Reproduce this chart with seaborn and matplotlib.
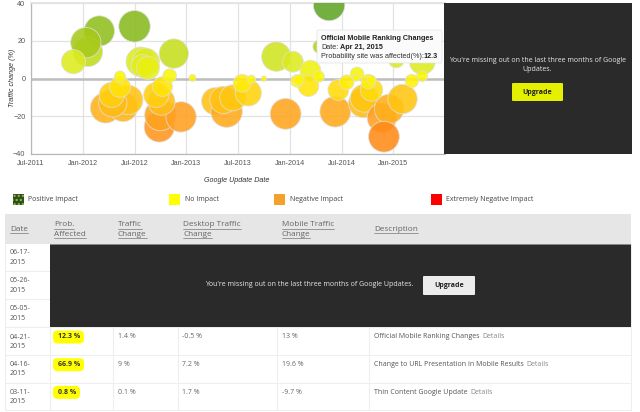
import matplotlib
matplotlib.use("Agg")
import matplotlib.pyplot as plt
import pandas as pd
import seaborn as sns
from matplotlib.colors import LinearSegmentedColormap
from matplotlib.patches import FancyBboxPatch, Rectangle

# decimal year of each Google update
update_year = [
    2012.16, 2012.50, 2012.05, 2012.03, 2011.91, 2012.88, 2012.56, 2012.61, 2012.58, 2012.63,
    2012.22, 2012.39, 2012.44, 2012.29, 2012.28, 2012.36, 2012.36,
    2012.74, 2012.75, 2012.95, 2012.76, 2012.71, 2012.77, 2012.84, 2013.06,
    2013.28, 2013.39, 2013.36, 2013.45, 2013.60, 2013.54, 2013.63, 2013.75,
    2013.96, 2013.87, 2014.03, 2014.20, 2014.18, 2014.07, 2014.09, 2014.28, 2014.29, 2014.38,
    2014.44, 2014.47, 2014.55, 2014.65, 2014.64, 2014.71, 2014.72, 2014.79, 2014.76, 2014.79,
    2014.89, 2014.96, 2015.09, 2014.91, 2015.03, 2015.18, 2015.28, 2015.28,
]
traffic_change = [
    25.3, 27.8, 14.2, 19.1, 9.0, 13.3, 9.0, 8.9, 6.7, 5.7,
    -15.5, -15.0, -11.3, -12.9, -8.6, -4.4, 1.1,
    -25.6, -19.3, -20.3, -12.2, -8.6, -4.2, 1.6, 0.4,
    -12.0, -17.5, -11.3, -10.2, -7.6, -2.4, -0.3, 0.0,
    -18.7, 11.7, 9.0, 4.2, -3.9, -1.2, -0.7, 1.1, 17.0, 39.1,
    -17.5, -6.0, -1.9, 2.5, 0.5, -12.9, -10.4, -6.0, -1.6, -0.7,
    -20.8, -16.1, -10.8, -30.8, 9.9, -1.2, 9.0, 1.4,
]
prob_affected = [
    93, 100, 87, 93, 59, 87, 87, 75, 54, 54,
    93, 87, 87, 81, 64, 44, 13,
    93, 100, 93, 75, 64, 40, 19, 5,
    75, 100, 75, 69, 69, 32, 7, 3,
    96, 87, 44, 44, 44, 16, 11, 13, 19, 100,
    96, 44, 22, 19, 5, 87, 79, 51, 22, 8,
    87, 87, 87, 96, 25, 18, 66.9, 12.3,
]

x_ticks = [2011.5, 2012, 2012.5, 2013, 2013.5, 2014, 2014.5, 2015]
x_labels = ["Jul-2011", "Jan-2012", "Jul-2012", "Jan-2013", "Jul-2013", "Jan-2014", "Jul-2014", "Jan-2015"]
y_ticks = [-40, -20, 0, 20, 40]

legend_labels = ["Positive Impact", "No Impact", "Negative Impact", "Extremely Negative Impact"]
header_labels = [["Date"], ["Prob.", "Affected"], ["Traffic", "Change"], ["Desktop Traffic", "Change"],
                 ["Mobile Traffic", "Change"], ["Description"]]
hidden_dates = ["06-17-\n2015", "05-26-\n2015", "05-05-\n2015"]
row_dates = ["04-21-\n2015", "04-16-\n2015", "03-11-\n2015"]
row_prob = ["12.3 %", "66.9 %", "0.8 %"]
row_traffic = ["1.4 %", "9 %", "0.1 %"]
row_desktop = ["-0.5 %", "7.2 %", "1.7 %"]
row_mobile = ["13 %", "19.6 %", "-9.7 %"]
row_desc = ["Official Mobile Ranking Changes", "Change to URL Presentation in Mobile Results", "Thin Content Google Update"]

CHART_FONT = "Liberation Sans"
PAGE_FONT = "Open Sans"
DARK = "#2a2a2a"

sns.set_theme(style="whitegrid")
plt.rcParams["font.family"] = [CHART_FONT, "DejaVu Sans"]

W, H = 640, 412
fig = plt.figure(figsize=(W / 100, H / 100), dpi=100, facecolor="white")

# ---- bubble chart ----
ax = fig.add_axes([31 / W, 1 - 154 / H, (445 - 31) / W, (154 - 3.3) / H])
df = pd.DataFrame({"year": update_year, "traffic": traffic_change, "prob": prob_affected})
cores = LinearSegmentedColormap.from_list("impacto", [
    (0.0, "#ff7a10"), (0.25, "#ffa020"), (0.375, "#ffc810"), (0.5, "#fff800"),
    (0.625, "#d8ea20"), (0.75, "#a2c818"), (1.0, "#5fa428"),
])
sns.scatterplot(
    data=df, x="year", y="traffic", hue="traffic", size="prob", ax=ax, legend=False,
    palette=cores, hue_norm=(-40, 40), sizes=(0, 1.1 * (2 * 15 * 0.72) ** 2), size_norm=(0, 100),
    alpha=0.88, edgecolor="#e0e0e0", linewidth=0.6, zorder=3,
)
ax.set_xlim(2011.5, 2015.5)
ax.set_ylim(-40, 40)
ax.set_xticks(x_ticks, x_labels)
ax.set_yticks(y_ticks)
ax.set_xlabel("")
ax.set_ylabel("")
ax.grid(True, color="#e2e2e2", linewidth=0.9)
ax.axhline(0, color="#bdbdbd", linewidth=1.8, zorder=2)
ax.tick_params(length=0, labelsize=5.2, labelcolor="#555555", pad=4)
for lado in ["top", "right"]:
    ax.spines[lado].set_color("#e2e2e2")
for lado in ["left", "bottom"]:
    ax.spines[lado].set_color("#b8b8b8")
    ax.spines[lado].set_linewidth(0.9)

# ---- page overlay in pixel coordinates ----
page = fig.add_axes([0, 0, 1, 1], zorder=5)
page.set_xlim(0, W)
page.set_ylim(H, 0)
page.axis("off")
page.patch.set_alpha(0)


def rect(x0, y0, x1, y1, **kw):
    kw.setdefault("linewidth", 0)
    page.add_patch(Rectangle((x0, y0), x1 - x0, y1 - y0, **kw))


def rounded(x0, y0, x1, y1, pad, color, edge="none"):
    page.add_patch(FancyBboxPatch((x0 + pad, y0 + pad), x1 - x0 - 2 * pad, y1 - y0 - 2 * pad,
                                  boxstyle=f"round,pad={pad}", facecolor=color, edgecolor=edge, linewidth=0.5))


def label(x, y, s, size=5.0, color="#444444", font=PAGE_FONT, **kw):
    kw.setdefault("va", "center")
    return page.text(x, y, s, fontsize=size, color=color, family=[font, "DejaVu Sans"], **kw)


label(12.5, 78, "Traffic change (%)", 5.1, "#333333", CHART_FONT, style="italic", rotation=90, ha="center")
label(237, 180, "Google Update Date", 5.1, "#333333", CHART_FONT, style="italic", ha="center")

# tooltip
rounded(317, 30, 442, 63, 1.5, "#fbfbfb", "#e2e2e2")
label(321, 38, "Official Mobile Ranking Changes", 5.2, "#222222", CHART_FONT, weight="bold")
label(321, 47, "Date:", 5.2, "#333333", CHART_FONT)
label(340, 47, "Apr 21, 2015", 5.2, "#222222", CHART_FONT, weight="bold")
label(321, 56, "Probability site was affected(%):", 5.2, "#333333", CHART_FONT)
label(423.5, 56, "12.3", 5.2, "#222222", CHART_FONT, weight="bold")

# upgrade panel next to the chart
rect(444, 3, 632, 154, facecolor=DARK)
label(537.5, 60, "You're missing out on the last three months of Google", 5.0, "#e8e8e8", ha="center")
label(537.5, 69, "Updates.", 5.0, "#e8e8e8", ha="center")
rounded(512, 83, 563, 101, 1, "#e5f000")
label(537.5, 92, "Upgrade", 5.0, "#222222", ha="center", weight="bold")

# legend
swatches = [(13, "#2f4f1f"), (169, "#ffff00"), (274, "#f5a02a"), (431, "#ff0000")]
texts_x = [28, 185, 290, 446]
for (sx, cor), tx, nome in zip(swatches, texts_x, legend_labels):
    rect(sx, 194, sx + 10.5, 205, facecolor=cor)
    label(tx, 199.5, nome, 5.0, "#444444")
rect(13, 194, 23.5, 205, facecolor="none", edgecolor="#8fc040", hatch="....", linewidth=0)

# table
cols_text = [10, 54, 118, 183, 281.5, 374]
col_lines = [49.5, 113, 178, 277, 369]
row_lines = [271, 299, 327, 355, 382.5, 410]
rect(5, 214, 631, 244, facecolor="#e6e6e6")
renderer = fig.canvas.get_renderer()
for cx, linhas in zip(cols_text, header_labels):
    ys = [229] if len(linhas) == 1 else [224.8, 234]
    for yy, s in zip(ys, linhas):
        t = label(cx, yy, s, 5.9, "#666666")
        bb = t.get_window_extent(renderer).transformed(page.transData.inverted())
        page.plot([bb.x0, bb.x1], [yy + 4.2, yy + 4.2], color="#777777", linewidth=0.5)

for yy in row_lines:
    page.plot([5, 631], [yy, yy], color="#eeeeee", linewidth=0.8, zorder=0)
page.plot([5, 5], [244, 410], color="#eeeeee", linewidth=0.8, zorder=0)
page.plot([631, 631], [244, 410], color="#eeeeee", linewidth=0.8, zorder=0)
page.plot([49.5, 49.5], [244, 410], color="#eeeeee", linewidth=0.8, zorder=0)
for cx in col_lines[1:]:
    page.plot([cx, cx], [327, 410], color="#eeeeee", linewidth=0.8, zorder=0)

rect(50, 244, 631, 327, facecolor=DARK)
rect(50, 243.5, 631, 244.5, facecolor="#888888")
label(205, 285, "You're missing out on the last three months of Google Updates.", 5.0, "#e8e8e8")
rounded(423, 276, 475, 295, 1, "#ececec")
label(449, 285.5, "Upgrade", 5.0, "#222222", ha="center", weight="bold")

for i, s in enumerate(hidden_dates):
    label(9.5, 257.5 + i * 28, s, 5.0, "#555555", linespacing=1.4)

for i in range(3):
    yy = 337 + i * 27.7
    label(9.5, yy + 4.6, row_dates[i], 5.0, "#555555", linespacing=1.4)
    right = 84 if i < 2 else 80
    rounded(53, yy - 6.5, right, yy + 6.5, 4.5, "#ffff00")
    label(58, yy, row_prob[i], 5.0, "#333333", weight="bold")
    label(118, yy, row_traffic[i], 5.0, "#666666")
    label(182.5, yy, row_desktop[i], 5.0, "#666666")
    label(281.5, yy, row_mobile[i], 5.0, "#666666")
    t = label(374, yy, row_desc[i], 5.0, "#555555")
    bb = t.get_window_extent(renderer).transformed(page.transData.inverted())
    label(bb.x1 + 2.5, yy, "Details", 5.0, "#888888")

fig.savefig("out.png", dpi=100, facecolor="white")
